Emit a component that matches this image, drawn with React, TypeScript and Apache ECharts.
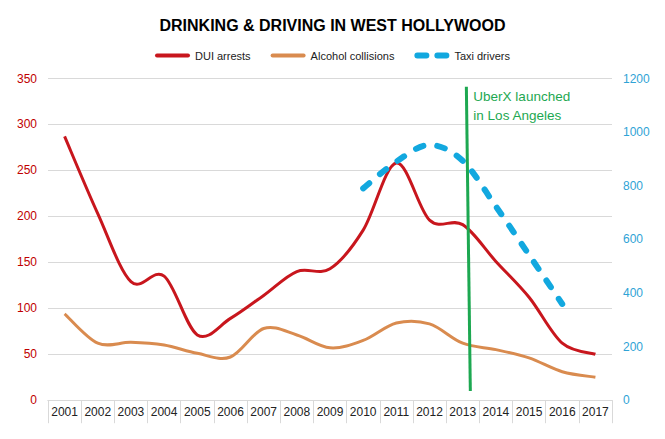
import React, { useEffect, useRef } from "react";
import * as echarts from "echarts";

const years = ["2001", "2002", "2003", "2004", "2005", "2006", "2007", "2008", "2009", "2010", "2011", "2012", "2013", "2014", "2015", "2016", "2017"];
const duiArrests = [287, 203, 129, 135, 71, 89, 114, 140, 143, 185, 258, 196, 191, 151, 112, 62, 50];
const alcoholCollisions = [94, 62, 63, 60, 51, 47, 78, 71, 57, 65, 84, 83, 62, 55, 46, 31, 25];
const taxiDrivers = [null, null, null, null, null, null, null, null, null, 790, 890, 952, 893, 723, 542, 359, null];

const leftTicks = { min: 0, max: 350, interval: 50 };
const rightTicks = { min: 0, max: 1200, interval: 200 };

const annotation = {
  year: "2013",
  topOffset: 0.11,
  bottomOffset: 0.23,
  topValue: 341,
  bottomValue: 10,
  text: "UberX launched\nin Los Angeles",
};

const FONT = "'Liberation Sans', Arial, sans-serif";
const GREEN = "#1DA851";
const RED = "#C8161D";
const ORANGE = "#D98B4F";
const BLUE = "#12A8DF";

const SOLID_ICON = "path://M2,0H33A2,2 0 0 1 33,4H2A2,2 0 0 1 2,0Z";
const DASH_ICON =
  "path://M3,0H12A3,3 0 0 1 12,6H3A3,3 0 0 1 3,0Z M23,0H32A3,3 0 0 1 32,6H23A3,3 0 0 1 23,0Z";

// Excel-like smoothed line: Catmull-Rom spline converted to cubic Bezier segments
function smoothPath(pts: number[][]): string {
  if (pts.length < 2) return "";
  let d = `M${pts[0][0]},${pts[0][1]}`;
  for (let i = 0; i < pts.length - 1; i++) {
    const p0 = pts[Math.max(0, i - 1)];
    const p1 = pts[i];
    const p2 = pts[i + 1];
    const p3 = pts[Math.min(pts.length - 1, i + 2)];
    const c1x = p1[0] + (p2[0] - p0[0]) / 6;
    const c1y = p1[1] + (p2[1] - p0[1]) / 6;
    const c2x = p2[0] - (p3[0] - p1[0]) / 6;
    const c2y = p2[1] - (p3[1] - p1[1]) / 6;
    d += ` C${c1x},${c1y} ${c2x},${c2y} ${p2[0]},${p2[1]}`;
  }
  return d;
}

function curveSeries(name: string, values: (number | null)[], yAxisIndex: number, color: string, style: any) {
  const data: number[][] = [];
  values.forEach((v, i) => {
    if (v != null) data.push([i, v]);
  });
  return {
    name,
    type: "custom",
    yAxisIndex,
    data,
    encode: { x: 0, y: 1 },
    itemStyle: { color },
    renderItem: (params: any, api: any) => {
      if (params.dataIndex !== 0) return null;
      const pts = data.map((d) => api.coord([d[0], d[1]]) as number[]);
      return {
        type: "path",
        shape: { pathData: smoothPath(pts) },
        style: { fill: "none", stroke: color, ...style },
      };
    },
  };
}

export default function App() {
  const ref = useRef<HTMLDivElement>(null);

  useEffect(() => {
    if (!ref.current) return;
    const chart = echarts.init(ref.current, null, { renderer: "svg" });
    const option: any = {
      animation: false,
      backgroundColor: "#ffffff",
      title: {
        text: "DRINKING & DRIVING IN WEST HOLLYWOOD",
        left: "center",
        top: 12,
        textStyle: { fontFamily: FONT, fontWeight: "bold", fontSize: 16, color: "#000" },
      },
      legend: {
        top: 45,
        left: "center",
        itemWidth: 35,
        itemHeight: 10,
        itemGap: 20,
        textStyle: { fontFamily: FONT, fontSize: 11, color: "#222" },
        data: [
          { name: "DUI arrests", icon: SOLID_ICON, itemStyle: { color: RED } },
          { name: "Alcohol collisions", icon: SOLID_ICON, itemStyle: { color: ORANGE } },
          { name: "Taxi drivers", icon: DASH_ICON, itemStyle: { color: BLUE } },
        ],
      },
      grid: { left: 48, right: 53, top: 78.5, bottom: 38.8 },
      xAxis: [
        {
          type: "category",
          data: years,
          boundaryGap: true,
          axisLine: { show: true, lineStyle: { color: "#D9D9D9", width: 1 } },
          axisTick: { show: true, interval: 0, length: 23, lineStyle: { color: "#D9D9D9" } },
          axisLabel: { interval: 0, margin: 6, color: "#222", fontSize: 12, fontFamily: FONT },
          splitLine: { show: false },
        },
        {
          type: "category",
          data: years,
          position: "bottom",
          offset: 23,
          axisLine: { show: true, lineStyle: { color: "#D9D9D9", width: 1 } },
          axisTick: { show: false },
          axisLabel: { show: false },
          splitLine: { show: false },
        },
      ],
      yAxis: [
        {
          type: "value",
          ...leftTicks,
          axisLine: { show: false },
          axisTick: { show: false },
          axisLabel: { color: "#C00000", fontSize: 12, margin: 11, fontFamily: FONT },
          splitLine: { lineStyle: { color: "#D9D9D9" } },
        },
        {
          type: "value",
          position: "right",
          ...rightTicks,
          axisLine: { show: false },
          axisTick: { show: false },
          axisLabel: {
            color: "#2FA3D6",
            fontSize: 12,
            margin: 11,
            fontFamily: FONT,
            formatter: (v: number) => String(v),
          },
          splitLine: { show: false },
        },
      ],
      series: [
        curveSeries("DUI arrests", duiArrests, 0, RED, { lineWidth: 3, lineJoin: "round" }),
        curveSeries("Alcohol collisions", alcoholCollisions, 0, ORANGE, { lineWidth: 3, lineJoin: "round" }),
        curveSeries("Taxi drivers", taxiDrivers, 1, BLUE, { lineWidth: 6, lineDash: [8, 14], lineCap: "round" }),
      ],
    };
    chart.setOption(option);

    const idx = years.indexOf(annotation.year);
    const x0 = chart.convertToPixel({ xAxisIndex: 0 }, years[idx]) as number;
    const x1 = chart.convertToPixel({ xAxisIndex: 0 }, years[idx + 1]) as number;
    const step = x1 - x0;
    const xTop = x0 + annotation.topOffset * step;
    const xBot = x0 + annotation.bottomOffset * step;
    const yTop = chart.convertToPixel({ yAxisIndex: 0 }, annotation.topValue) as number;
    const yBot = chart.convertToPixel({ yAxisIndex: 0 }, annotation.bottomValue) as number;

    chart.setOption({
      graphic: [
        {
          type: "line",
          shape: { x1: xTop, y1: yTop, x2: xBot, y2: yBot },
          style: { stroke: GREEN, lineWidth: 3 },
          z: 10,
        },
        {
          type: "text",
          x: xTop + 7,
          y: yTop,
          style: {
            text: annotation.text,
            fill: GREEN,
            fontSize: 13.5,
            lineHeight: 19,
            fontFamily: FONT,
          },
          z: 10,
        },
      ],
    });

    return () => chart.dispose();
  }, []);

  return <div ref={ref} style={{ position: "absolute", left: 0, top: 0, width: 665, height: 439 }} />;
}
